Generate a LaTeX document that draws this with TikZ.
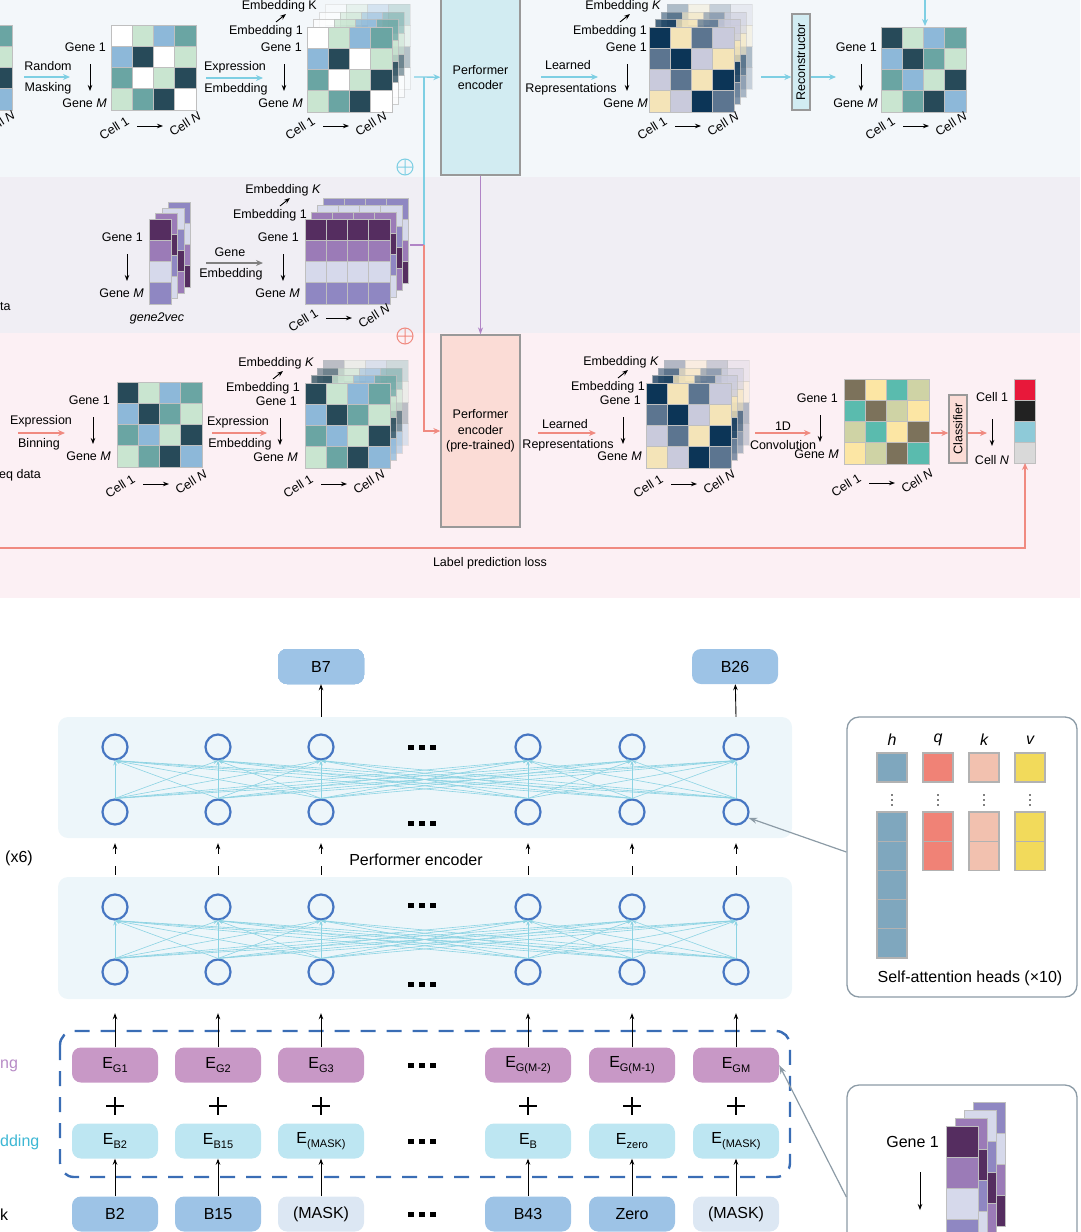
\documentclass[tikz,border=0pt]{standalone}
\usepackage{fontspec}
\setmainfont{Liberation Sans}
\usetikzlibrary{arrows.meta,positioning}
\definecolor{bgA}{HTML}{F3F7FA}
\definecolor{bgB}{HTML}{F0EEF4}
\definecolor{bgC}{HTML}{FCF0F4}
\definecolor{gW}{HTML}{FFFFFF}
\definecolor{gL}{HTML}{C9E5D0}
\definecolor{gB}{HTML}{8DB8D9}
\definecolor{gT}{HTML}{6AA5A3}
\definecolor{gD}{HTML}{274A59}
\definecolor{nN}{HTML}{0C3557}
\definecolor{nY}{HTML}{F4E4B8}
\definecolor{nS}{HTML}{5C7590}
\definecolor{nG}{HTML}{C9CADC}
\definecolor{pD}{HTML}{552D60}
\definecolor{pM}{HTML}{9B7BB7}
\definecolor{pL}{HTML}{D6D9EB}
\definecolor{pP}{HTML}{8F87C2}
\definecolor{oB}{HTML}{7C725B}
\definecolor{oY}{HTML}{FCE6A4}
\definecolor{oT}{HTML}{5ABBAE}
\definecolor{oS}{HTML}{CFD3A5}
\definecolor{kR}{HTML}{E8183A}
\definecolor{kK}{HTML}{222222}
\definecolor{kC}{HTML}{8ECAD8}
\definecolor{kG}{HTML}{D9D9D9}
\definecolor{cy}{HTML}{7ECFE3}
\definecolor{rd}{HTML}{F08A80}
\definecolor{pu}{HTML}{B184C6}
\definecolor{encA}{HTML}{D2ECF2}
\definecolor{encB}{HTML}{FBDCD6}
\definecolor{nb}{HTML}{4676C2}
\definecolor{lc}{HTML}{8CD3E3}
\definecolor{pf}{HTML}{EDF6FA}
\definecolor{bb}{HTML}{9DC3E6}
\definecolor{bl}{HTML}{DCE7F3}
\definecolor{egc}{HTML}{C898C6}
\definecolor{ebc}{HTML}{BDE6F2}
\definecolor{db}{HTML}{3A6DB5}
\definecolor{hq}{HTML}{7FA7BE}
\definecolor{qq}{HTML}{F08276}
\definecolor{kq}{HTML}{F2C1AF}
\definecolor{vq}{HTML}{F2DA5B}
\definecolor{ga}{HTML}{8C9BA6}
\definecolor{pt}{HTML}{B78BC6}
\definecolor{ct}{HTML}{3DB7D4}
\def\pA{gW,gL,gB,gT,gB,gD,gW,gL,gT,gW,gL,gD,gL,gT,gD,gW}
\def\pB{gD,gL,gB,gT,gB,gD,gT,gL,gT,gB,gL,gD,gL,gT,gD,gB}
\def\pC{nN,nY,nS,nG,nS,nN,nG,nY,nG,nS,nY,nN,nY,nG,nN,nS}
\def\pD{oB,oY,oT,oS,oT,oB,oS,oY,oS,oT,oY,oB,oY,oS,oB,oT}
\def\qA{pD,pD,pD,pD,pM,pM,pM,pM,pL,pL,pL,pL,pP,pP,pP,pP}
\def\qB{pM,pM,pM,pM,pD,pD,pD,pD,pP,pP,pP,pP,pL,pL,pL,pL}
\def\qC{pL,pL,pL,pL,pP,pP,pP,pP,pD,pD,pD,pD,pM,pM,pM,pM}
\def\qD{pP,pP,pP,pP,pL,pL,pL,pL,pM,pM,pM,pM,pD,pD,pD,pD}
\def\cA{pD,pM,pL,pP}
\def\cB{pM,pD,pP,pL}
\def\cC{pL,pP,pD,pM}
\def\cD{pP,pL,pM,pD}
\def\kA{kR,kK,kC,kG}
\newcommand\cellgrid[4][1]{\foreach \cl [count=\i from 0] in #4{\pgfmathtruncatemacro\cc{mod(\i,4)}\pgfmathtruncatemacro\rr{div(\i,4)}\filldraw[fill=\cl,draw=gray!50,line width=1pt,opacity=#1] ({#2+\cc*21.3},{#3+\rr*21.3}) rectangle ++(21.3,21.3);}}
\newcommand\layers[3]{\cellgrid[.3]{#1+18}{#2-23}{#3}\cellgrid[.5]{#1+12}{#2-15}{#3}\cellgrid[.75]{#1+6}{#2-8}{#3}\cellgrid{#1}{#2}{#3}}
\newcommand\genecol[5]{\foreach \cl [count=\i from 0] in #5{\filldraw[fill=\cl,draw=gray!50,line width=1pt] (#1,{#2+\i*#4}) rectangle ++(#3,#4);}}
\newcommand\celllab[2]{\node[txt,rotate=32] at (#1-23,#2+2) {Cell 1};\draw[barr] (#1,#2) -- (#1+26,#2);\node[txt,rotate=32] at (#1+48,#2-2) {Cell \textit{N}};}
\newcommand\genelab[3]{\node[txt,anchor=east] at (#1,#3) {Gene 1};\draw[barr] (#2,#3+17) -- (#2,#3+44);\node[txt,anchor=east] at (#1+1,#3+56) {Gene \textit{M}};}
\newcommand\emblab[3]{\node[txt,anchor=east] at (#1+14,#2) {Embedding #3};\draw[barr] (#1-28,#2+16) -- (#1-18,#2+8);\node[txt,anchor=east] at (#1,#2+25) {Embedding 1};}
\newcommand\sqdots[2]{\foreach \sx in {-11,0,11}\fill ({#1+\sx-3},{#2-2.5}) rectangle ++(6,5);}
\newcommand\lowsub[1]{\raisebox{-.5ex}{\fontsize{11}{12}\selectfont#1}}
\begin{document}
\begin{tikzpicture}[x=1pt,y=-1pt,
	txt/.style={font=\fontsize{12.5}{15.5}\selectfont,inner sep=1pt},
	big/.style={font=\fontsize{16}{19}\selectfont,inner sep=1pt},
	barr/.style={line width=.9pt,-{Stealth[length=6pt,width=4.5pt]}},
	carr/.style={cy,line width=1.3pt,-{Stealth[length=7pt,width=6pt]}},
	rarr/.style={rd,line width=1.3pt,-{Stealth[length=7pt,width=6pt]}},
	encbox/.style={draw=gray!80,line width=1.3pt,txt,align=center},
	neu/.style={circle,draw=nb,line width=2.2pt,minimum size=25pt,inner sep=0pt},
	lnk/.style={lc,line width=.6pt,-{Stealth[length=5pt,width=3.5pt]}},
	panel/.style={fill=pf,rounded corners=10pt,minimum width=734pt},
	rbox/.style={rounded corners=9pt,minimum width=86pt,minimum height=35pt,big,inner sep=0pt},
	hpanel/.style={draw=ga,line width=1.3pt,rounded corners=12pt,fill=white,minimum width=230pt},
	garr/.style={ga,line width=1.2pt,-{Stealth[length=9pt,width=6pt]}}]
	\useasboundingbox (0,0) rectangle (1080,1232);
	\fill[bgA] (0,0) rectangle (1080,177);
	\fill[bgB] (0,177) rectangle (1080,333);
	\fill[bgC] (0,333) rectangle (1080,598);
	
	\cellgrid{-73}{25}{\pB}
	\node[txt,rotate=32] at (-1,123) {Cell \textit{N}};
	\draw[carr] (24,77) -- (70,77);
	\node[txt] at (48,66) {Random};
	\node[txt] at (48,88) {Masking};
	\genelab{107}{90}{47}
	\cellgrid{111}{25}{\pA}\celllab{137}{126}
	\draw[carr] (206,78) -- (263,78);
	\node[txt] at (235,67) {Expression};
	\node[txt] at (236,89) {Embedding};
	\emblab{304}{6}{K}
	\genelab{303}{284}{47}
	\layers{307}{27}{\pA}\celllab{323}{126}
	\node[encbox,fill=encA,minimum width=79pt,minimum height=195pt] (PE) at (480.5,77.5) {Performer\\encoder};
	\draw[carr] (414,77) -- (PE);
	\draw[cy,line width=1.2pt] (424,77) -- (424,245);
	\draw[pu,line width=1.2pt] (410,245) -- (424,245);
	\node[encbox,fill=encB,minimum width=79pt,minimum height=192pt] (PP) at (480.5,431) {Performer\\encoder\\(pre-trained)};
	\draw[rarr] (424,245) -- (424,431) -- (PP);
	\draw[pu,line width=1.2pt,-{Stealth[length=7pt,width=5pt]}] (PE) -- (PP);
	\foreach \cl/\y in {cy/167,rd/336}\draw[\cl,line width=1pt] (405,\y) circle[radius=8] +(-8,0) -- +(8,0) +(0,-8) -- +(0,8);
	\draw[carr] (541,77) -- (598,77);
	\node[txt] at (568,65) {Learned};
	\node[txt] at (571,89) {Representations};
	\emblab{648}{6}{\textit{K}}
	\genelab{648}{627}{47}
	\layers{649}{27}{\pC}\celllab{675}{126}
	\node[encbox,fill=encA,minimum width=18pt,minimum height=96pt] (RC) at (801,62) {\rotatebox{90}{Reconstructor}};
	\draw[carr] (761,77) -- (RC.west|-0,77);
	\draw[carr] (RC.east|-0,77) -- (836,77);
	\genelab{878}{861}{47}
	\cellgrid{881}{27}{\pB}\celllab{903}{126}
	\draw[carr] (925,-5) -- (925,26);
	
	\genelab{144}{127}{237}
	\genecol{168}{202}{22}{21.3}{\cD}\genecol{162}{208}{22}{21.3}{\cC}\genecol{155}{213}{22}{21.3}{\cB}\genecol{149}{219}{22}{21.3}{\cA}
	\node[txt,font=\fontsize{12.5}{15}\selectfont\itshape] at (157,318) {gene2vec};
	\draw[gray,line width=1.3pt,-{Stealth[length=7pt,width=6pt]}] (206,263) -- (263,263);
	\node[txt] at (230,252) {Gene};
	\node[txt] at (231,274) {Embedding};
	\emblab{308}{190}{\textit{K}}
	\genelab{300}{283}{237}
	\cellgrid{323}{198}{\qD}\cellgrid{317}{205}{\qC}\cellgrid{311}{212}{\qB}\cellgrid{305}{219}{\qA}
	\celllab{326}{318}
	\node[txt,anchor=west] at (-1,307) {ta};
	
	\draw[rarr] (18,433) -- (65,433);
	\node[txt] at (41,421) {Expression};
	\node[txt] at (39,444) {Binning};
	\node[txt,anchor=west] at (-2,475) {eq data};
	\genelab{111}{93}{400}
	\cellgrid{117}{382}{\pB}\celllab{143}{484}
	\draw[rarr] (212,433) -- (267,433);
	\node[txt] at (238,422) {Expression};
	\node[txt] at (240,444) {Embedding};
	\emblab{301}{363}{\textit{K}}
	\genelab{298}{280}{401}
	\layers{305}{383}{\pB}\celllab{321}{484}
	\draw[rarr] (538,433) -- (596,433);
	\node[txt] at (565,424) {Learned};
	\node[txt] at (568,445) {Representations};
	\emblab{646}{362}{\textit{K}}
	\genelab{642}{623}{400}
	\layers{646}{383}{\pC}\celllab{671}{484}
	\draw[rarr] (755,433) -- (811,433);
	\node[txt] at (783,426) {1D};
	\node[txt] at (783,445) {Convolution};
	\genelab{839}{820}{398}
	\cellgrid{844}{379}{\pD}\celllab{869}{483}
	\node[encbox,fill=encB,minimum width=18pt,minimum height=68pt] (CL) at (958,429) {\rotatebox{90}{Classifier}};
	\draw[rarr] (931,433) -- (CL.west|-0,433);
	\draw[rarr] (CL.east|-0,433) -- (987,433);
	\node[txt] at (992,397) {Cell 1};
	\draw[barr] (992,419) -- (992,446);
	\node[txt] at (992,460) {Cell \textit{N}};
	\genecol{1014}{379}{21}{21}{\kA}
	\coordinate (LB) at (1025,463);
	\draw[rarr] (0,548) -- (1025,548) -- (LB);
	\node[txt] at (490,563) {Label prediction loss};
	
	\node[panel,minimum height=121pt] (P1) at (425,777.5) {};
	\node[panel,minimum height=122pt] (P2) at (425,938) {};
	\foreach \x [count=\i] in {115,218,321,528,632,736}{
		\node[neu] (T\i) at (\x,747) {};
		\node[neu] (S\i) at (\x,812) {};
		\node[neu] (U\i) at (\x,907) {};
		\node[neu] (V\i) at (\x,972) {};}
	\foreach \i in {1,...,6}\foreach \j in {1,...,6}{
		\draw[lnk] (S\i.north) -- (T\j.south);
		\draw[lnk] (V\i.north) -- (U\j.south);}
	\foreach \y in {747,823,905,984,1065,1141,1214}\sqdots{422}{\y}
	\node[rbox,fill=bb] (B7) at (321,666.5) {B7};
	\node[rbox,fill=bb] (B26) at (735,666.5) {B26};
	\draw[barr] (T3|-P1.north) -- (B7);
	\draw[barr] (T6|-P1.north) -- (B26);
	\foreach \i in {1,...,6}\draw[barr,dash pattern=on 9pt off 12pt,shorten >=5pt,shorten <=2pt] (S\i|-P2.north) -- (S\i|-P1.south);
	\node[big] at (416,860) {Performer encoder};
	\node[big,anchor=west] at (4,858) {(x6)};
	\draw[db,line width=2.4pt,dash pattern=on 15pt off 11pt,rounded corners=14pt] (60,1031) rectangle (790,1177);
	\foreach \pos/\gn/\bn/\tn/\fc [count=\i] in {115/G1/B2/B2/bb,218/G2/B15/B15/bb,321/G3/(MASK)/(MASK)/bl,528/G(M-2)/B/B43/bb,632/G(M-1)/zero/Zero/bb,736/GM/(MASK)/(MASK)/bl}{
		\node[rbox,fill=egc] (G\i) at (\pos,1065) {E\lowsub{\gn}};
		\node[rbox,fill=ebc] (E\i) at (\pos,1141) {E\lowsub{\bn}};
		\node[rbox,fill=\fc] (I\i) at (\pos,1214) {\tn};
		\draw[line width=2.6pt] (\pos-9,1106) -- (\pos+9,1106) (\pos,1097) -- (\pos,1115);
		\draw[barr] (I\i) -- (E\i);
		\draw[barr,shorten >=14pt] (G\i) -- (G\i|-P2.south);}
	\node[big,text=pt,anchor=west] at (-1,1066) {ng};
	\node[big,text=ct,anchor=west] at (-1,1142) {dding};
	\node[big,anchor=west] at (-1,1215) {k};
	
	\node[hpanel,minimum height=280pt] (H) at (962,857) {};
	\foreach \x/\lt/\fc in {892/h/hq,938/q/qq,984/k/kq,1030/v/vq}{
		\node[big,font=\fontsize{16}{19}\selectfont\itshape] at (\x,740) {\lt};
		\filldraw[fill=\fc,draw=gray!60,line width=1.2pt] (\x-15,753) rectangle ++(30,29);
		\foreach \yy in {795,800,805}\fill (\x,\yy) circle[radius=.9];}
	\foreach \x/\fc/\n in {892/hq/4,938/qq/1,984/kq/1,1030/vq/1}\foreach \m in {0,...,\n}\filldraw[fill=\fc,draw=gray!60,line width=1.2pt] (\x-15,812+\m*29.2) rectangle ++(30,29.2);
	\node[big] at (970,978) {Self-attention heads (×10)};
	\draw[garr] (H.west|-0,852) -- (S6.-25);
	
	\node[hpanel,minimum height=170pt] (K) at (962,1170) {};
	\draw[garr] ([yshift=-27pt]K.west) -- (G6.east);
	\genecol{973}{1102}{32}{31}{\cD}\genecol{964}{1110}{32}{31}{\cC}\genecol{955}{1118}{32}{31}{\cB}\genecol{946}{1126}{32}{31}{\cA}
	\node[big,anchor=east] at (940,1142) {Gene 1};
	\draw[barr] (920,1172) -- (920,1210);
	\node[big,anchor=east] at (941,1241) {Gene \textit{M}};
\end{tikzpicture}
\end{document}
